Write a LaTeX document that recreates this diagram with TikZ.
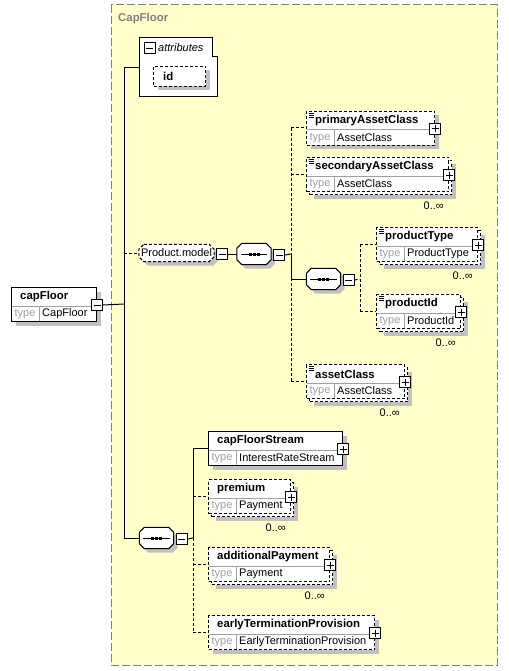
\documentclass[tikz,border=0pt]{standalone}
\usepackage{fontspec}
\setmainfont{Liberation Sans}
\usetikzlibrary{shadows}
\definecolor{bgyellow}{RGB}{255,255,204}
\definecolor{shgray}{RGB}{192,192,192}
\definecolor{framegray}{RGB}{128,128,128}
\definecolor{typegray}{RGB}{160,160,160}
\tikzset{
  txt/.style={inner sep=0, font=\fontsize{11pt}{13pt}\selectfont},
  ttl/.style={txt, anchor=west, font=\fontsize{11.4pt}{13pt}\selectfont\bfseries},
  typelbl/.style={txt, text=typegray},
  typeval/.style={txt, anchor=west},
  occ/.style={txt, anchor=east},
  opt/.style={dash pattern=on 3pt off 2pt},
  conn/.style={line width=1pt},
  optconn/.style={conn, opt},
  sepline/.style={draw=typegray, line width=1pt},
  elem/.style={draw, fill=white, line width=1pt, minimum height=34pt, inner sep=0, anchor=north west},
  octbox/.style={inner sep=0},
  octline/.style={fill=white, line width=1pt},
  shad/.style={general shadow={fill=shgray, shadow xshift=4pt, shadow yshift=-4pt}},
  stack/.style={general shadow={fill=shgray, shadow xshift=7pt, shadow yshift=-7pt},
    general shadow={draw, fill=white, shadow xshift=3pt, shadow yshift=-3pt}},
  simple/.style={path picture={
    \foreach \dy in {2,4,6}
      \draw [line width=0.7pt, solid] ([xshift=2pt, yshift=-\dy pt]path picture bounding box.north west) -- ++(5,0);}},
  iconbox/.style={draw, solid, fill=white, line width=1pt, minimum size=11pt, inner sep=0},
  minusbox/.style={iconbox, path picture={
    \draw [line width=1pt] ([xshift=2pt]path picture bounding box.west) -- ([xshift=-2pt]path picture bounding box.east);}},
  plusbox/.style={iconbox, path picture={
    \draw [line width=1pt] ([xshift=2pt]path picture bounding box.west) -- ([xshift=-2pt]path picture bounding box.east);
    \draw [line width=1pt] ([yshift=-2pt]path picture bounding box.north) -- ([yshift=2pt]path picture bounding box.south);}},
  pmicon/.style={plusbox}
}
% element box: [style]{name}{x}{y}{width}{title}{type}
\newcommand{\xelem}[7][]{%
  \node [elem, #1, minimum width=#5pt] (#2) at (#3,#4) {};
  \draw [sepline, shorten <=1pt, shorten >=1pt] ([yshift=-19pt]#2.north west) -- ([yshift=-19pt]#2.north east);
  \draw [sepline, shorten >=1pt] ([xshift=28pt, yshift=-19pt]#2.north west) -- ([xshift=28pt]#2.south west);
  \node [ttl] (#2-ttl) at ([xshift=9pt, yshift=-10pt]#2.north west) {#6};
  \node [typelbl] (#2-tl) at ([xshift=14pt, yshift=-27pt]#2.north west) {type};
  \node [typeval] (#2-tv) at ([xshift=31pt, yshift=-27pt]#2.north west) {#7};
  \node [pmicon] (#2-pm) at ([yshift=-18pt]#2.north east) {};
  \coordinate (#2-in) at ([yshift=-17pt]#2.north west)}
% chamfered box: [style]{name}{x}{y}{width}{height}{text}
\newcommand{\octpath}[1]{([xshift=5pt]#1.north west) -- ([xshift=-5pt]#1.north east)
  -- ([yshift=-5pt]#1.north east) -- ([yshift=5pt]#1.south east) -- ([xshift=-5pt]#1.south east)
  -- ([xshift=5pt]#1.south west) -- ([yshift=5pt]#1.south west) -- ([yshift=-5pt]#1.north west) -- cycle}
\newcommand{\xoct}[7][]{%
  \node [octbox, minimum width=#5pt, minimum height=#6pt] (#2) at (#3,#4) {};
  \fill [shgray, transform canvas={shift={(4pt,-4pt)}}] \octpath{#2};
  \draw [octline, #1] \octpath{#2};
  \node [txt] (#2-txt) at (#2) {#7};
  \node [minusbox, anchor=west] (#2-pm) at ([xshift=2pt, yshift=-1pt]#2.east) {}}
% sequence compositor: {name}{x}{y}
\newcommand{\xseq}[3]{%
  \xoct{#1}{#2}{#3}{34}{21}{};
  \draw [line width=1pt] ([xshift=4pt]#1.west) -- ([xshift=-4pt]#1.east);
  \foreach \dx in {-4,0,4}
    \fill ([xshift=\dx pt-1.5pt, yshift=-1.5pt]#1.center) rectangle ([xshift=\dx pt+1.5pt, yshift=1.5pt]#1.center)}
\begin{document}
\begin{tikzpicture}[x=1pt, y=-1pt]
  \useasboundingbox (0,0) rectangle (508,671);
  \draw [fill=bgyellow, draw=framegray, line width=1pt, dash pattern=on 8pt off 3pt] (111,5) rectangle (497,665);
  \node [ttl, text=framegray] (grp) at (118,19) {CapFloor};

  % attributes
  \draw [fill=white, line width=1pt] (139,38) -- (212,38) -- (212,57) -- (217,57) -- (217,97) -- (139,97) -- cycle;
  \node [minusbox] (attr-pm) at (149.5,48.5) {};
  \node [txt, anchor=west, font=\fontsize{11pt}{13pt}\selectfont\itshape] (attr) at (158,48) {attributes};
  \coordinate (attr-in) at (139,68);
  \node [elem, opt, shad, minimum width=52pt, minimum height=20pt] (id) at (153,66) {};
  \node [ttl] (id-ttl) at (163,76) {id};

  % elements
  \begin{scope}[pmicon/.style={minusbox}]
    \xelem[shad]{capFloor}{11}{287}{85}{capFloor}{CapFloor};
  \end{scope}
  \xoct[opt]{pmodel}{176.5}{253}{75}{17}{Product.model};
  \xseq{seq1}{254}{254};
  \xelem[opt, shad, simple]{pac}{306}{111}{128}{primaryAssetClass}{AssetClass};
  \xelem[opt, stack, simple]{sac}{306}{157}{142}{secondaryAssetClass}{AssetClass};
  \xseq{seq2}{323.5}{279};
  \xelem[opt, stack, simple]{pt}{376}{227}{101}{productType}{ProductType};
  \xelem[opt, stack, simple]{pid}{376}{294}{84}{productId}{ProductId};
  \xelem[opt, stack, simple]{ac}{306}{364}{98}{assetClass}{AssetClass};
  \xseq{seq3}{156.5}{538};
  \xelem[shad]{cfs}{208}{431}{134}{capFloorStream}{InterestRateStream};
  \xelem[opt, stack]{prem}{208}{479}{82}{premium}{Payment};
  \xelem[opt, stack]{addp}{208}{547}{121}{additionalPayment}{Payment};
  \xelem[opt, shad]{etp}{208}{615}{166}{earlyTerminationProvision}{EarlyTerminationProvision};
  \foreach \e in {sac,pt,pid,ac,prem,addp}
    \node [occ] (\e-occ) at ([xshift=-5pt, yshift=-14pt]\e.south east) {0..∞};

  % connectors
  \coordinate (j1) at (124,304);
  \coordinate (j2) at (291,254);
  \coordinate (j3) at (360,279);
  \coordinate (j4) at (193,538);
  \draw [conn] (capFloor-pm.east) -- (j1);
  \draw [conn] (j1 |- attr-in) -- (j1 |- seq3.west);
  \draw [conn] (j1 |- attr-in) -- (attr-in);
  \draw [optconn] (j1 |- pmodel.west) -- (pmodel.west);
  \draw [conn] (j1 |- seq3.west) -- (seq3.west);
  \draw [conn] (pmodel-pm.east) -- (seq1.west);
  \draw [conn] (seq1-pm.east) -- (j2);
  \draw [optconn] (j2 |- pac-in) -- (j2 |- ac-in);
  \draw [conn] (j2) -- (j2 |- seq2.west) -- (seq2.west);
  \foreach \e in {pac,sac,ac}
    \draw [optconn] (j2 |- \e-in) -- (\e-in);
  \draw [optconn] (seq2-pm.east) -- (j3);
  \draw [optconn] (j3 |- pt-in) -- (j3 |- pid-in);
  \foreach \e in {pt,pid}
    \draw [optconn] (j3 |- \e-in) -- (\e-in);
  \draw [conn] (seq3-pm.east) -- (j4);
  \draw [conn] (j4 |- cfs-in) -- (j4);
  \draw [optconn] (j4) -- (j4 |- etp-in);
  \draw [conn] (j4 |- cfs-in) -- (cfs-in);
  \foreach \e in {prem,addp,etp}
    \draw [optconn] (j4 |- \e-in) -- (\e-in);
\end{tikzpicture}
\end{document}
